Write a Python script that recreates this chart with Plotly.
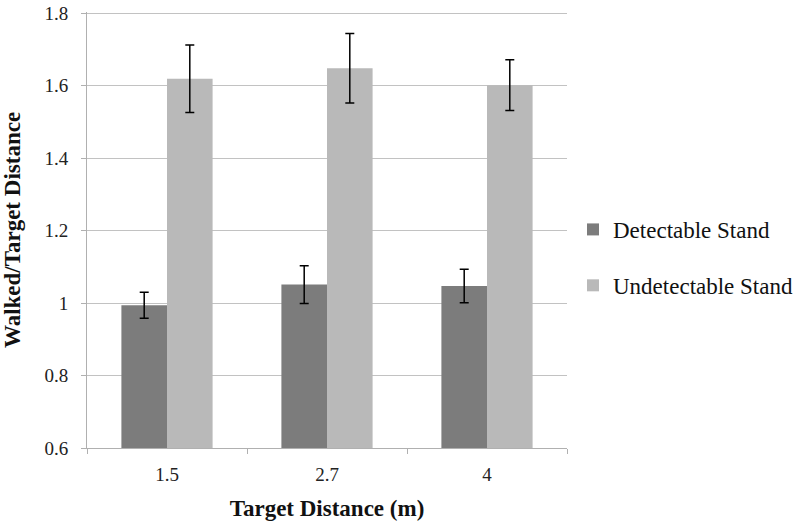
"""Walked / target distance ratio by stand type."""

import plotly.graph_objects as go

# Data
categories = ["1.5", "2.7", "4"]
detectable = [0.994, 1.051, 1.047]
detectable_err = [0.036, 0.052, 0.046]
undetectable = [1.619, 1.648, 1.601]
undetectable_err = [0.093, 0.096, 0.070]

FONT = "Liberation Serif"
GRID = "#c2c2c2"
AXIS = "#b0b0b0"

fig = go.Figure()

fig.add_trace(
    go.Bar(
        x=categories,
        y=detectable,
        name="Detectable Stand",
        marker={"color": "#7c7c7c", "line": {"width": 0}},
        error_y={"type": "data", "array": detectable_err, "color": "black",
                 "thickness": 1.5, "width": 4.5},
        legendgroup="a",
    )
)
fig.add_trace(
    go.Bar(
        x=categories,
        y=undetectable,
        name="Undetectable Stand",
        marker={"color": "#b9b9b9", "line": {"width": 0}},
        error_y={"type": "data", "array": undetectable_err, "color": "black",
                 "thickness": 1.5, "width": 4.5},
        legendgroup="b",
    )
)

fig.update_layout(
    width=800,
    height=531,
    margin={"l": 87, "r": 233, "t": 12, "b": 83, "autoexpand": False},
    plot_bgcolor="white",
    paper_bgcolor="white",
    barmode="group",
    bargap=0.43,
    bargroupgap=0,
    font={"family": FONT, "size": 19, "color": "#222222"},
    legend={
        "x": 1.0125,
        "xanchor": "left",
        "y": 0.437,
        "yanchor": "middle",
        "font": {"size": 23, "color": "#111111"},
        "tracegroupgap": 23,
        "traceorder": "grouped",
        "itemwidth": 30,
    },
)

fig.update_xaxes(
    automargin=False,
    showline=True,
    linecolor=AXIS,
    linewidth=1,
    ticks="outside",
    tickson="boundaries",
    ticklen=5,
    tickcolor=AXIS,
    ticklabelstandoff=9,
    title={"text": "<b>Target Distance (m)</b>", "font": {"size": 23, "color": "#111111"},
           "standoff": 16},
)
fig.update_yaxes(
    automargin=False,
    range=[0.6, 1.803],
    tick0=0.6,
    dtick=0.2,
    showline=True,
    linecolor=AXIS,
    linewidth=1,
    ticks="outside",
    ticklen=5,
    tickcolor=AXIS,
    ticklabeloverflow="allow",
    showgrid=True,
    gridcolor=GRID,
    gridwidth=1,
    zeroline=False,
    ticklabelstandoff=9,
    title={"text": "<b>Walked/Target Distance</b>", "font": {"size": 23, "color": "#111111"},
           "standoff": 18},
)

# drop the default page margin so the figure sits at the window's corner
fig.write_html(
    "out.html",
    config={"displayModeBar": False},
    post_script="document.body.style.margin = '0';",
)
